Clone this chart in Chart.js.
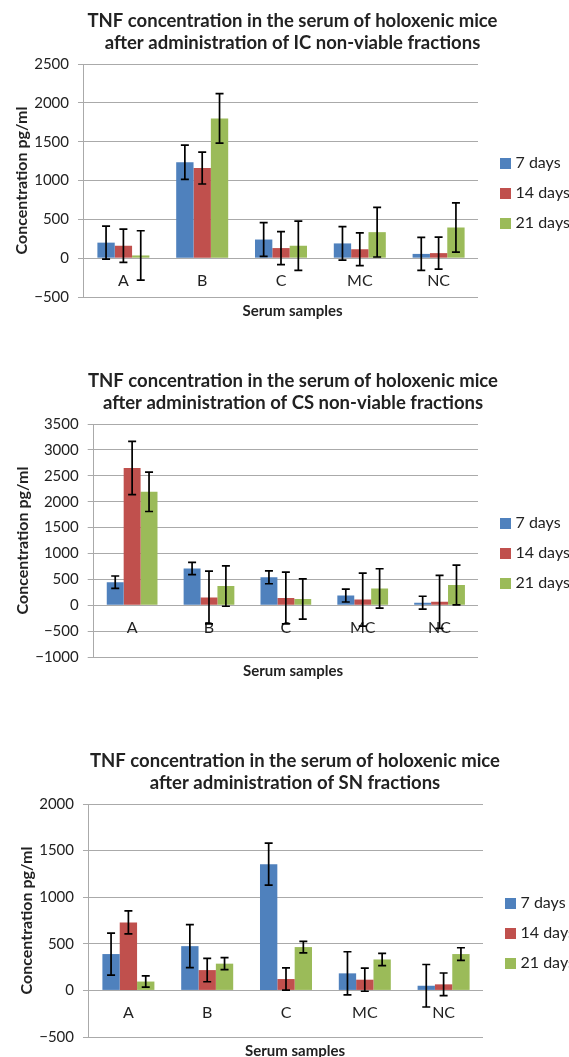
<!DOCTYPE html>
<html>
<head>
<meta charset="utf-8">
<script src="https://cdn.jsdelivr.net/npm/chart.js@4.4.1/dist/chart.umd.min.js"></script>
<style>
  html, body { margin: 0; padding: 0; background: #fff; }
  body { width: 569px; height: 1057px; position: relative; overflow: hidden; }
  .box { position: absolute; left: 0; width: 569px; height: 320px; }
</style>
</head>
<body>
<div class="box" style="top:0"><canvas id="icChart"></canvas></div>
<div class="box" style="top:360px"><canvas id="csChart"></canvas></div>
<div class="box" style="top:740px"><canvas id="snChart"></canvas></div>
<script>
// Categories and series
const categories = ['A', 'B', 'C', 'MC', 'NC'];
const seriesNames = ['7 days', '14 days', '21 days'];
const seriesColors = ['#4F81BD', '#C0504D', '#9BBB59'];

// IC non-viable fractions (mean, error)
const icMean7 = [200, 1235, 240, 190, 55];
const icErr7 = [212, 220, 218, 215, 213];
const icMean14 = [160, 1160, 130, 115, 65];
const icErr14 = [213, 205, 212, 212, 205];
const icMean21 = [35, 1800, 160, 335, 395];
const icErr21 = [318, 318, 318, 320, 318];
const icTicks = [-500, 0, 500, 1000, 1500, 2000, 2500];

// CS non-viable fractions
const csMean7 = [445, 710, 540, 187, 48];
const csErr7 = [120, 118, 125, 125, 125];
const csMean14 = [2650, 150, 140, 110, 65];
const csErr14 = [515, 510, 500, 512, 512];
const csMean21 = [2190, 370, 120, 325, 390];
const csErr21 = [380, 390, 390, 380, 385];
const csTicks = [-1000, -500, 0, 500, 1000, 1500, 2000, 2500, 3000, 3500];

// SN fractions
const snMean7 = [390, 475, 1355, 183, 50];
const snErr7 = [225, 230, 225, 232, 228];
const snMean14 = [730, 218, 122, 115, 65];
const snErr14 = [123, 125, 120, 124, 122];
const snMean21 = [95, 287, 465, 332, 390];
const snErr21 = [60, 65, 62, 66, 68];
const snTicks = [-500, 0, 500, 1000, 1500, 2000];

Chart.defaults.font.family = "Lato, 'Open Sans', sans-serif";
Chart.defaults.color = '#222';

const GRID = '#aaaaaa';

// Error bars drawn through the y scale
const errorBars = {
    id: 'errorBars',
    afterDatasetsDraw(chart) {
        const ctx = chart.ctx;
        const yScale = chart.scales.y;
        ctx.save();
        ctx.strokeStyle = '#000';
        ctx.lineWidth = 1.7;
        chart.data.datasets.forEach((ds, i) => {
            const meta = chart.getDatasetMeta(i);
            meta.data.forEach((bar, j) => {
                const top = yScale.getPixelForValue(ds.data[j] + ds.errors[j]);
                const bottom = yScale.getPixelForValue(ds.data[j] - ds.errors[j]);
                ctx.beginPath();
                ctx.moveTo(bar.x, top);
                ctx.lineTo(bar.x, bottom);
                ctx.moveTo(bar.x - 4, top);
                ctx.lineTo(bar.x + 4, top);
                ctx.moveTo(bar.x - 4, bottom);
                ctx.lineTo(bar.x + 4, bottom);
                ctx.stroke();
            });
        });
        ctx.restore();
    }
};

// Fixed legend width, then nudge it into place
const legendSpot = {
    id: 'legendSpot',
    beforeInit(chart, args, opts) {
        const fit = chart.legend.fit;
        chart.legend.fit = function () {
            fit.call(this);
            this.width = opts.width;
        };
    },
    afterLayout(chart, args, opts) {
        const lg = chart.legend;
        lg.left += opts.dx;
        lg.right += opts.dx;
        lg.top += opts.dy;
        lg.bottom += opts.dy;
    }
};

function swatch(color) {
    const c = document.createElement('canvas');
    c.width = 11;
    c.height = 11;
    const g = c.getContext('2d');
    g.fillStyle = color;
    g.fillRect(0, 0, 11, 11);
    return c;
}

function makeChart(id, titleLines, ticks, means, errors, layout) {
    const datasets = means.map((m, i) => ({
        label: seriesNames[i],
        data: m,
        errors: errors[i],
        backgroundColor: seriesColors[i],
        borderWidth: 0,
        categoryPercentage: 0.66,
        barPercentage: 1.0
    }));

    return new Chart(document.getElementById(id), {
        type: 'bar',
        data: { labels: categories, datasets },
        options: {
            responsive: true,
            maintainAspectRatio: false,
            animation: false,
            layout: { padding: { left: layout.padLeft, right: 0, top: 0, bottom: 0 } },
            plugins: {
                title: {
                    display: true,
                    text: titleLines,
                    font: { size: 18.5, weight: 'bold', lineHeight: 1.19 },
                    color: '#222',
                    padding: { top: 10, bottom: 10 }
                },
                subtitle: {
                    display: true,
                    position: 'bottom',
                    text: 'Serum samples',
                    font: { size: 15, weight: 'bold', lineHeight: 1.2 },
                    color: '#222',
                    padding: { top: 5, bottom: 0 }
                },
                legend: {
                    position: 'right',
                    labels: {
                        font: { size: 16 },
                        color: '#222',
                        padding: 14,
                        usePointStyle: true,
                        pointStyleWidth: 4,
                        generateLabels(chart) {
                            const items = Chart.defaults.plugins.legend.labels.generateLabels(chart);
                            items.forEach(it => { it.pointStyle = swatch(it.fillStyle); });
                            return items;
                        }
                    }
                },
                legendSpot: { width: layout.legendWidth, dx: 11.5, dy: 33 },
                tooltip: { enabled: false }
            },
            scales: {
                x: {
                    position: { y: 0 },
                    grid: { display: false, drawTicks: false },
                    border: { display: false },
                    ticks: { padding: 13, color: '#222', font: { size: 16 } }
                },
                y: {
                    min: ticks[0],
                    max: ticks[ticks.length - 1],
                    afterBuildTicks(axis) {
                        axis.ticks = ticks.map(v => ({ value: v }));
                    },
                    ticks: {
                        padding: 9,
                        color: '#222',
                        font: { size: 15 },
                        callback: v => String(v).replace('-', '\u2212')
                    },
                    grid: { color: GRID, tickLength: 6 },
                    border: { display: true, color: GRID },
                    title: {
                        display: true,
                        text: 'Concentration pg/ml',
                        font: { size: 16, weight: 'bold', lineHeight: 1.2 },
                        color: '#222',
                        padding: { top: -4, bottom: -6 }
                    }
                }
            }
        },
        plugins: [errorBars, legendSpot]
    });
}

makeChart('icChart',
    ['TNF concentration in the serum of holoxenic mice', 'after administration of IC non-viable fractions'],
    icTicks,
    [icMean7, icMean14, icMean21],
    [icErr7, icErr14, icErr21],
    { padLeft: 16, legendWidth: 91 });

makeChart('csChart',
    ['TNF concentration in the serum of holoxenic mice', 'after administration of CS non-viable fractions'],
    csTicks,
    [csMean7, csMean14, csMean21],
    [csErr7, csErr14, csErr21],
    { padLeft: 17, legendWidth: 91 });

makeChart('snChart',
    ['TNF concentration in the serum of holoxenic mice', 'after administration of SN fractions'],
    snTicks,
    [snMean7, snMean14, snMean21],
    [snErr7, snErr14, snErr21],
    { padLeft: 21, legendWidth: 86 });
</script>
</body>
</html>
